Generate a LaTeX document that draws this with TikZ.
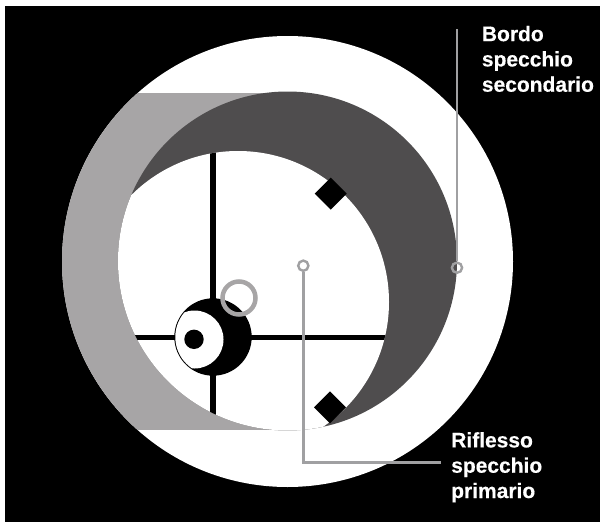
\documentclass[tikz,border=0pt]{standalone}
\usepackage{fontspec}
\setmainfont{Liberation Sans}[BoldFeatures={FakeBold=0.4}]
\definecolor{mirrordark}{RGB}{79, 77, 78}
\definecolor{mirrorgrey}{RGB}{167, 165, 166}
\definecolor{leadergrey}{RGB}{160, 160, 162}
\usetikzlibrary{positioning}
\tikzset{
    leader/.style={draw=leadergrey, line width=2.6pt},
    leaderring/.style={circle, draw=leadergrey, line width=2.4pt, minimum size=10.2pt, inner sep=0pt},
    callout/.style={font=\fontsize{21}{25.3}\selectfont\bfseries, text=white, align=left, anchor=north west, inner sep=0pt},
    notch/.style={fill=black}
}
\begin{document}
\begin{tikzpicture}[x=1pt, y=-1pt]
    \useasboundingbox (0, 0) rectangle (600, 522);
    \fill[white] (0, 0) rectangle (600, 522);
    \fill[black] (5, 6) rectangle (600, 522);
    % outer disc and band
    \fill[white] (287.5, 261.5) circle (225.5);
    \begin{scope}
        \clip (287.5, 261.5) circle (225.5);
        \fill[mirrorgrey] (0, 92.7) rectangle (288, 430);
    \end{scope}
    \fill[mirrordark] (287.5, 261) circle (169.5);
    % inner field
    \begin{scope}
        \clip (287.5, 261) circle (169.5);
        \fill[white] (238, 302) circle (151);
        \clip (238, 302) circle (151);
        \fill[black] (209.7, 140) rectangle (215.7, 440);
        \fill[black] (100, 334.8) rectangle (400, 339.8);
    \end{scope}
    \fill[notch] (330.7, 177.7) -- (346.7, 193.7) -- (330.7, 209.7) -- (314.7, 193.7) -- cycle;
    \fill[notch] (330, 391.3) -- (346, 407.3) -- (330, 423.3) -- (314, 407.3) -- cycle;
    % central spot
    \fill[black] (213, 337) circle (38.7);
    \begin{scope}
        \clip (213, 337) circle (37.7);
        \fill[white] (194.5, 339.5) circle (29);
    \end{scope}
    \fill[black] (194, 339.3) circle (9.7);
    \draw[mirrorgrey, line width=4.5pt] (239, 298) circle (16.5);
    % labels
    \node[leaderring] (edgering) at (457, 267.7) {};
    \node[leaderring] (glintring) at (303.3, 265.7) {};
    \coordinate (edgetop) at (457, 29);
    \coordinate (glintcorner) at (303.3, 462.3);
    \coordinate (glintend) at (440.7, 462.3);
    \draw[leader] (edgetop) -- (edgering);
    \draw[leader] (glintring) -- (glintcorner) -- (glintend);
    \node[callout] (edgelabel) at (481.7, 25.7) {Bordo\\specchio\\secondario};
    \node[callout] (glintlabel) at (451, 432) {Riflesso\\specchio\\primario};
\end{tikzpicture}
\end{document}
